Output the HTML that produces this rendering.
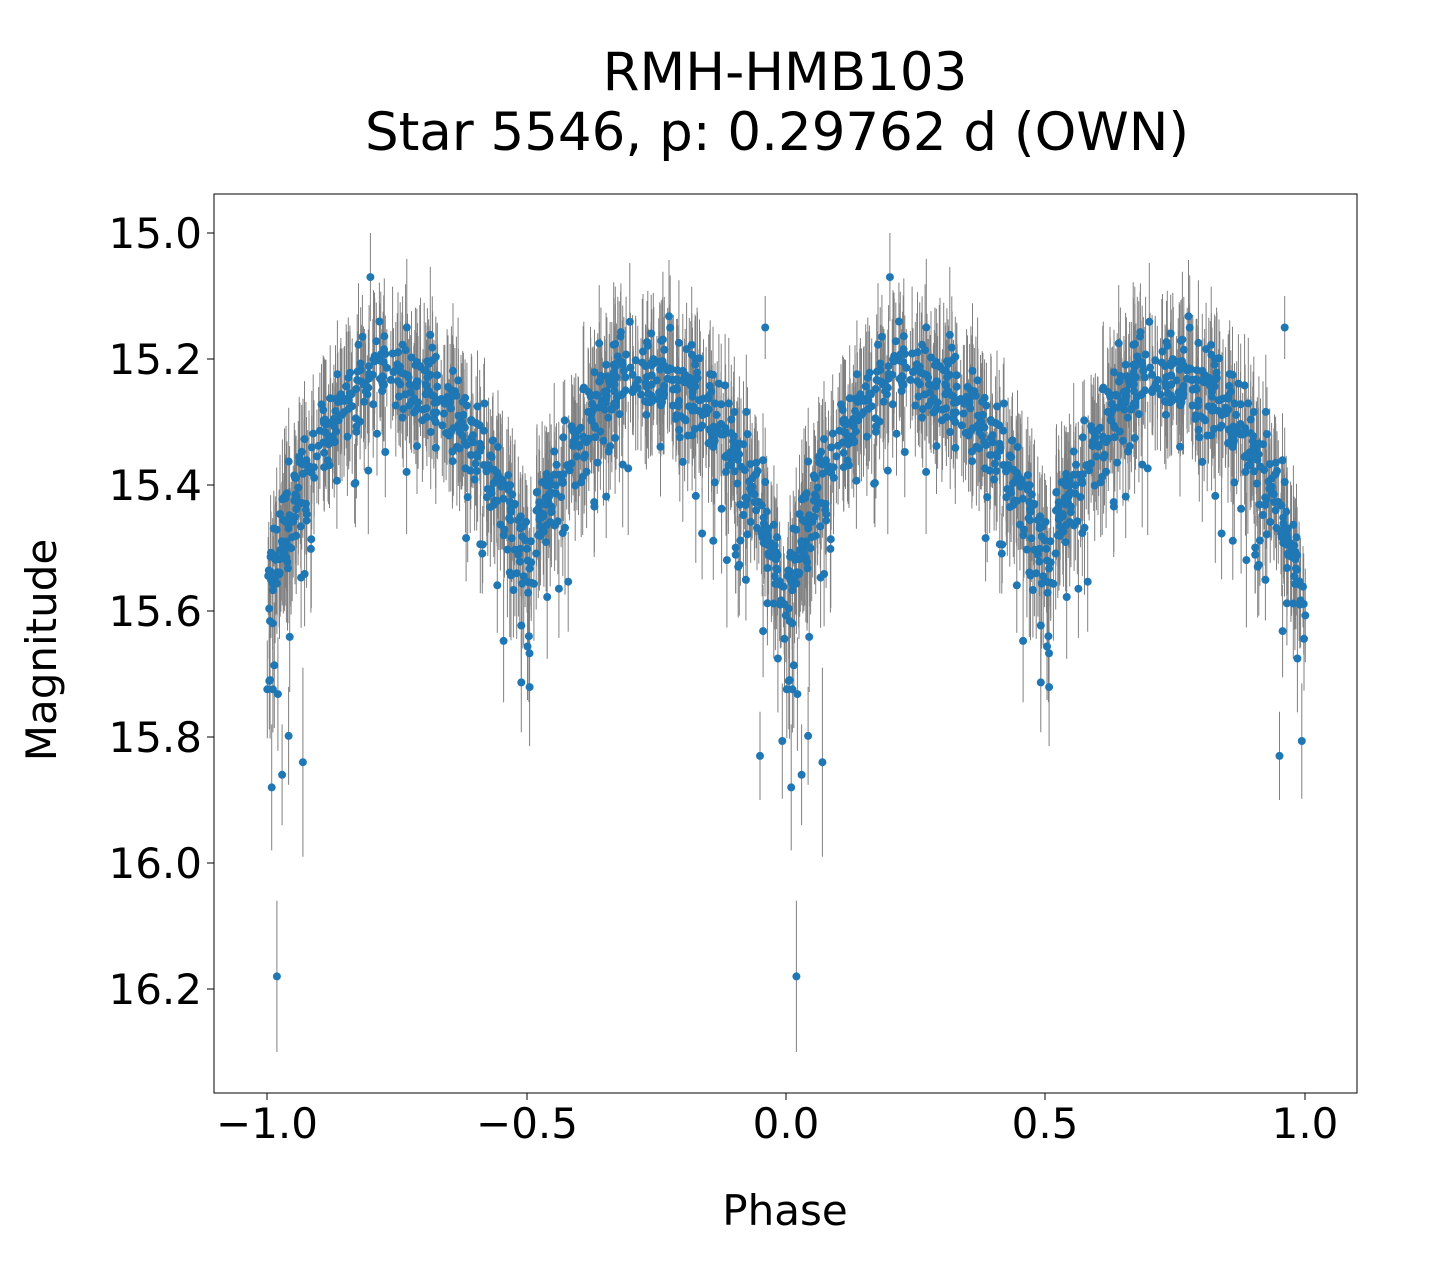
<!DOCTYPE html>
<html><head><meta charset="utf-8"><style>
html,body{margin:0;padding:0;background:#fff;}
svg{display:block;font-family:"DejaVu Sans","Liberation Sans",sans-serif;}
</style></head><body>
<svg id="s" width="1440" height="1280" xmlns="http://www.w3.org/2000/svg">
<rect width="1440" height="1280" fill="#fff"/>
<text x="785" y="90" font-size="53" text-anchor="middle">RMH-HMB103</text>
<text x="777" y="150" font-size="53" text-anchor="middle">Star 5546, p: 0.29762 d (OWN)</text>
<g id="eb" stroke="#808080" stroke-width="1"></g>
<g id="pts" fill="#1f77b4"></g>
<rect x="214" y="194" width="1143" height="899" fill="none" stroke="#000" stroke-width="1"/>
<g stroke="#000" stroke-width="1">
<line x1="267" y1="1093" x2="267" y2="1100"/><line x1="527" y1="1093" x2="527" y2="1100"/><line x1="786" y1="1093" x2="786" y2="1100"/><line x1="1045" y1="1093" x2="1045" y2="1100"/><line x1="1305" y1="1093" x2="1305" y2="1100"/>
<line x1="207" y1="233" x2="214" y2="233"/><line x1="207" y1="359" x2="214" y2="359"/><line x1="207" y1="485" x2="214" y2="485"/><line x1="207" y1="611" x2="214" y2="611"/><line x1="207" y1="737" x2="214" y2="737"/><line x1="207" y1="863" x2="214" y2="863"/><line x1="207" y1="989" x2="214" y2="989"/>
</g>
<g font-size="42" text-anchor="middle">
<text x="267" y="1138">−1.0</text><text x="527" y="1138">−0.5</text><text x="786" y="1138">0.0</text><text x="1045" y="1138">0.5</text><text x="1305" y="1138">1.0</text>
</g>
<g font-size="42" text-anchor="end">
<text x="202" y="248">15.0</text><text x="202" y="374">15.2</text><text x="202" y="500">15.4</text><text x="202" y="626">15.6</text><text x="202" y="752">15.8</text><text x="202" y="878">16.0</text><text x="202" y="1004">16.2</text>
</g>
<text x="785" y="1225" font-size="42" text-anchor="middle">Phase</text>
<text transform="translate(56,650) rotate(-90)" font-size="42" text-anchor="middle">Magnitude</text>
</svg>
<script>
var seed=12345;function r(){seed=(seed*1103515245+12345)%2147483648;return seed/2147483648;}
function g(){return Math.sqrt(-2*Math.log(r()+1e-9))*Math.cos(2*Math.PI*r());}
function X(p){return 786+519.5*p;}function Y(m){return 233+630*(m-15);}
var pts=[],eb=[];
function add(ph,m,e){[ph,ph-1].forEach(function(q){var x=X(q).toFixed(1);
eb.push('<line x1="'+x+'" y1="'+Y(m-e).toFixed(1)+'" x2="'+x+'" y2="'+Y(m+e).toFixed(1)+'"/>');
pts.push('<circle cx="'+x+'" cy="'+Y(m).toFixed(1)+'" r="4"/>');});}
for(var i=0;i<850;i++){var ph=r();var d0=15.57+0.035*Math.cos(2*Math.PI*ph);
var s=Math.abs(Math.sin(2*Math.PI*ph));var m=d0-(d0-15.22)*Math.pow(s,0.75);
var d=g()*0.035;if(r()<0.07)d+=(0.06+r()*0.2)*(1.2-s);if(r()<0.04)d+=0.08+r()*0.1;
add(ph,m+d,0.06+r()*0.05);}
add(0.02,16.18,0.12);add(0.96,15.15,0.05);add(0.01,15.88,0.1);add(0.03,15.86,0.08);add(0.07,15.84,0.15);add(0.2,15.07,0.07);add(0.95,15.83,0.07);
document.getElementById('eb').innerHTML=eb.join('');
document.getElementById('pts').innerHTML=pts.join('');
</script>
</body></html>
